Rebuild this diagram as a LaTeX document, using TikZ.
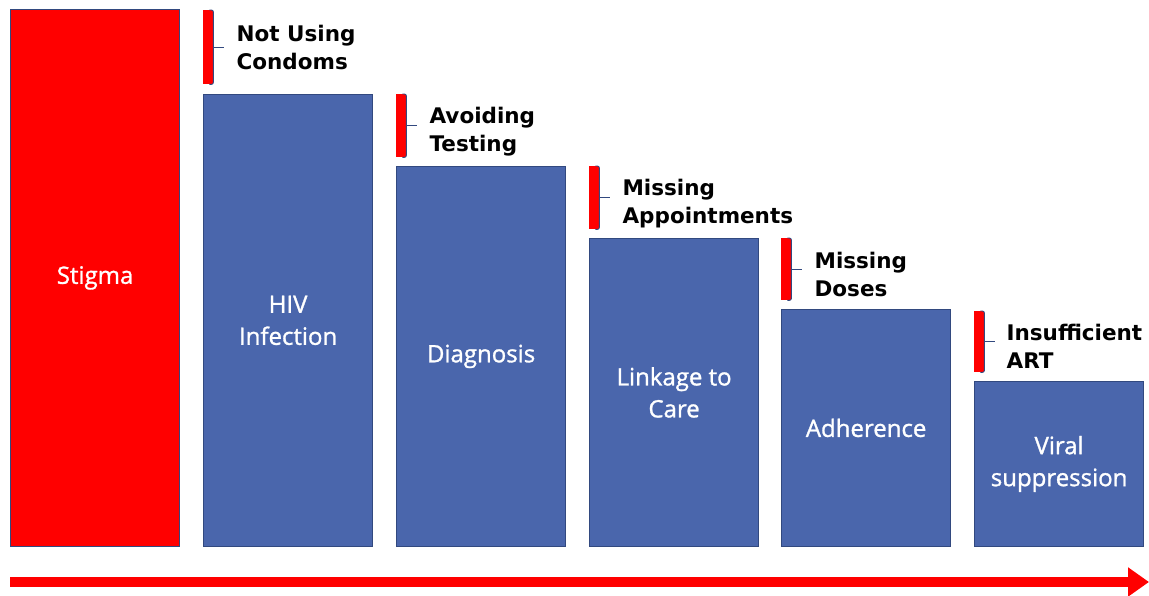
\documentclass[tikz,border=0pt]{standalone}
\usepackage{fontspec}
\usetikzlibrary{arrows.meta,positioning}
\newfontfamily\stagefont{Open Sans}[FakeBold=1.2]
\newfontfamily\gapfont{DejaVu Sans}
\definecolor{stageblue}{HTML}{4A66AC}
\definecolor{stageline}{HTML}{32497F}
\definecolor{gapred}{HTML}{FF0000}
\begin{document}
\begin{tikzpicture}[x=1pt,y=-1pt,
    stage/.style={draw=stageline,line width=1.2pt,fill=stageblue,minimum width=169pt,inner sep=0pt,anchor=south west,
      text=white,align=center,font=\stagefont\fontsize{24}{32}\selectfont},
    gap/.style={fill=gapred,minimum width=10pt,inner sep=0pt,anchor=north west},
    brace/.style={draw=stageline,line width=0.9pt,rounded corners=2pt},
    why/.style={font=\gapfont\bfseries\fontsize{21.5}{28}\selectfont,align=left,anchor=west,inner sep=0pt}]
  \useasboundingbox (0,0) rectangle (1149,596);

  % the care cascade
  \node[stage,fill=gapred,minimum height=537pt] (stigma) at (10,547) {Stigma};
  \node[stage,minimum height=452pt] (hiv) at (203,547) {HIV\\Infection};
  \node[stage,minimum height=380pt] (diag) at (396,547) {Diagnosis};
  \node[stage,minimum height=308pt] (link) at (589,547) {Linkage to\\Care};
  \node[stage,minimum height=237pt] (adh) at (781,547) {Adherence};
  \node[stage,minimum height=165pt] (vs) at (974,547) {Viral\\suppression};

  % red markers above each stage
  \node[gap,minimum height=74pt] (g1) at (203,10) {};
  \node[gap,minimum height=63pt] (g2) at (396,94) {};
  \node[gap,minimum height=63pt] (g3) at (589,166) {};
  \node[gap,minimum height=62pt] (g4) at (781,238) {};
  \node[gap,minimum height=61pt] (g5) at (974,311) {};

  \foreach \g in {g1,g2,g3,g4,g5}{
    \draw[brace] ([xshift=-4pt]\g.north east) -- (\g.north east) -- (\g.south east) -- ([xshift=-4pt]\g.south east);
    \draw[brace] (\g.east) -- ++(11,0);
  }

  \node[why] (w1) [right=23pt of g1] {Not Using\\Condoms};
  \node[why] (w2) [right=23pt of g2,yshift=-6pt] {Avoiding\\Testing};
  \node[why] (w3) [right=23pt of g3,yshift=-6pt] {Missing\\Appointments};
  \node[why] (w4) [right=23pt of g4,yshift=-5pt] {Missing\\Doses};
  \node[why] (w5) [right=22pt of g5,yshift=-5pt] {Insufficient\\ART};

  % time arrow
  \coordinate (t0) at (10,582);
  \coordinate (t1) at (1149,582);
  \draw[gapred,line width=10pt,-{Triangle[length=21pt,width=28pt]}] (t0) -- (t1);
\end{tikzpicture}
\end{document}
